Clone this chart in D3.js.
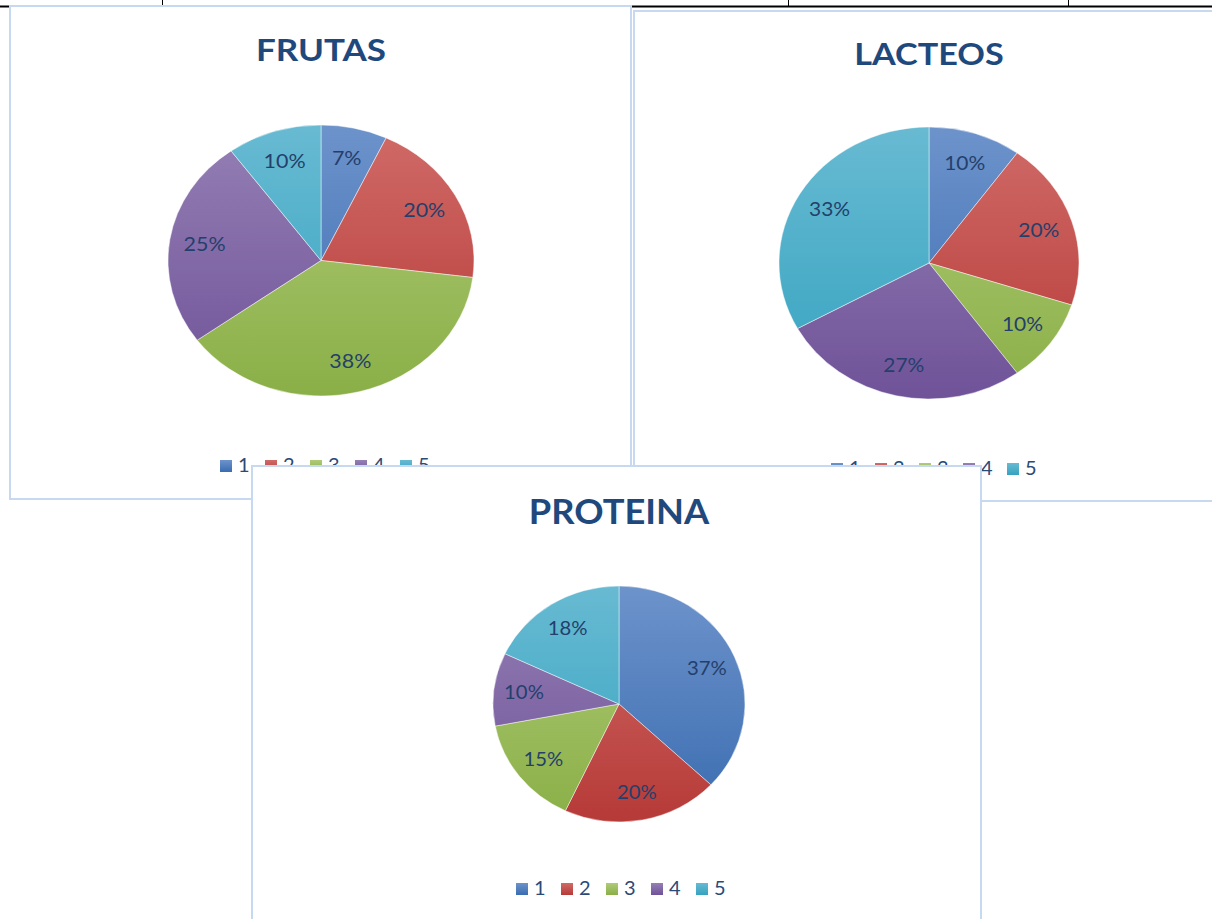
<!DOCTYPE html>
<html>
<head>
<meta charset="utf-8">
<script src="https://cdn.jsdelivr.net/npm/d3@7"></script>
<style>
  body { margin: 0; background: #fff; }
  svg { display: block; }
  .title { font-family: Lato, "Open Sans", sans-serif; font-weight: bold; fill: #1f497d; }
  .lbl { font-family: Lato, "Open Sans", sans-serif; fill: #243f6b; }
  .leg { font-family: Lato, "Open Sans", sans-serif; fill: #2c4a78; }
</style>
</head>
<body>
<svg id="chart" width="1212" height="919"></svg>
<script>
var categories = ["1", "2", "3", "4", "5"];
var frutasValues = [7, 20, 38, 25, 10];
var lacteosValues = [10, 20, 10, 27, 33];
var proteinaValues = [37, 20, 15, 10, 18];

var lightColors = ["#6d93cb", "#d06b68", "#b0cb77", "#9580b5", "#68bad2"];
var darkColors = ["#3a6cb0", "#b63a37", "#8aaf47", "#6f5298", "#35a3c0"];

var svg = d3.select("#chart");

// table lines behind the charts
var table = svg.append("g").attr("stroke", "#000");
table.append("line").attr("x1", 0).attr("x2", 1212).attr("y1", 6.5).attr("y2", 6.5).attr("stroke-width", 2);
[162, 788, 1068].forEach(function(x) {
    table.append("line").attr("x1", x + 0.5).attr("x2", x + 0.5).attr("y1", 0).attr("y2", 6).attr("stroke-width", 1);
});

var defs = svg.append("defs");

function drawChart(cfg) {
    var g = svg.append("g");

    g.append("rect")
        .attr("x", cfg.box.x).attr("y", cfg.box.y)
        .attr("width", cfg.box.w).attr("height", cfg.box.h)
        .attr("fill", "#fff")
        .attr("stroke", "#c6d9f1")
        .attr("stroke-width", 2);

    g.append("text")
        .attr("class", "title")
        .attr("x", cfg.cx).attr("y", cfg.titleY)
        .attr("text-anchor", "middle")
        .attr("font-size", cfg.titleSize)
        .attr("transform", "translate(" + cfg.cx + ",0) scale(" + cfg.sx + ",1) translate(" + (-cfg.cx) + ",0)")
        .text(cfg.title);

    // gradient per colour over the whole pie height
    categories.forEach(function(c, i) {
        var grad = defs.append("linearGradient")
            .attr("id", cfg.id + "-g" + i)
            .attr("gradientUnits", "userSpaceOnUse")
            .attr("x1", 0).attr("x2", 0)
            .attr("y1", -cfg.r).attr("y2", cfg.r);
        grad.append("stop").attr("offset", "0%").attr("stop-color", lightColors[i]);
        grad.append("stop").attr("offset", "100%").attr("stop-color", darkColors[i]);
    });

    var pie = d3.pie().sort(null).value(function(d) { return d; });
    var arcs = pie(cfg.values);
    var total = d3.sum(cfg.values);
    var arc = d3.arc().innerRadius(0).outerRadius(cfg.r);
    var labelArc = d3.arc().innerRadius(cfg.r * cfg.lr).outerRadius(cfg.r * cfg.lr);

    var pg = g.append("g")
        .attr("transform", "translate(" + cfg.cx + "," + cfg.cy + ") scale(" + cfg.sx + ",1)");

    pg.selectAll("path.slice")
        .data(arcs)
        .enter().append("path")
        .attr("class", "slice")
        .attr("d", arc)
        .attr("fill", function(d, i) { return "url(#" + cfg.id + "-g" + i + ")"; })
        .attr("stroke", "rgba(255,255,255,0.55)")
        .attr("stroke-width", 0.8);

    pg.selectAll("text.lbl")
        .data(arcs)
        .enter().append("text")
        .attr("class", "lbl")
        .attr("font-size", 19)
        .attr("text-anchor", "middle")
        .attr("dy", "0.35em")
        .attr("transform", function(d) {
            var c = labelArc.centroid(d);
            return "translate(" + c[0] + "," + c[1] + ")";
        })
        .text(function(d) { return Math.round(d.value / total * 100) + "%"; });

    // legend
    var step = cfg.legStep;
    var startX = cfg.legX;
    var leg = g.append("g");
    categories.forEach(function(c, i) {
        var x = startX + i * step;
        var grad = defs.append("linearGradient")
            .attr("id", cfg.id + "-l" + i)
            .attr("x1", 0).attr("x2", 0).attr("y1", 0).attr("y2", 1);
        grad.append("stop").attr("offset", "0%").attr("stop-color", lightColors[i]);
        grad.append("stop").attr("offset", "100%").attr("stop-color", darkColors[i]);
        leg.append("rect")
            .attr("x", x).attr("y", cfg.legY - 12)
            .attr("width", 12).attr("height", 12)
            .attr("fill", "url(#" + cfg.id + "-l" + i + ")");
        leg.append("text")
            .attr("class", "leg")
            .attr("x", x + 18).attr("y", cfg.legY)
            .attr("font-size", 20)
            .text(c);
    });
}

drawChart({
    id: "frutas", title: "FRUTAS", values: frutasValues,
    box: {x: 10, y: 6, w: 621, h: 493},
    cx: 321, cy: 260.5, r: 135.5, sx: 153 / 135.5, lr: 0.77,
    titleY: 61, titleSize: 31, legX: 220, legY: 472, legStep: 45
});

drawChart({
    id: "lacteos", title: "LACTEOS", values: lacteosValues,
    box: {x: 634, y: 11, w: 590, h: 490},
    cx: 929, cy: 263, r: 136, sx: 150 / 136, lr: 0.77,
    titleY: 65, titleSize: 31, legX: 831, legY: 475, legStep: 44
});

drawChart({
    id: "proteina", title: "PROTEINA", values: proteinaValues,
    box: {x: 252, y: 466, w: 729, h: 470},
    cx: 619, cy: 704, r: 118, sx: 126 / 118, lr: 0.76,
    titleY: 524, titleSize: 34, legX: 516, legY: 895, legStep: 45
});
</script>
</body>
</html>
